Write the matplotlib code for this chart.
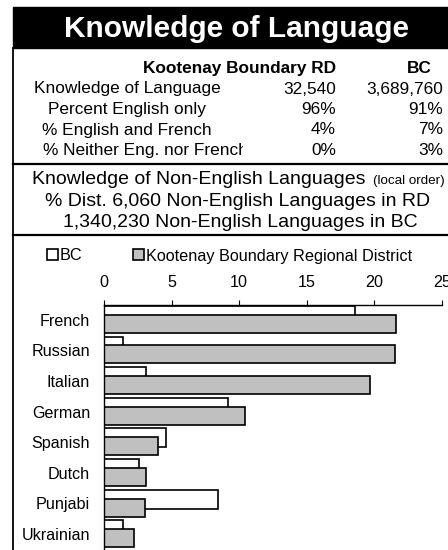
import matplotlib
matplotlib.use("Agg")
import matplotlib.pyplot as plt
from matplotlib.patches import Rectangle
from matplotlib.lines import Line2D
from matplotlib.transforms import Bbox
import numpy as np

plt.rcParams['font.family'] = ['Liberation Sans', 'DejaVu Sans']

# table data
title = "Knowledge of Language"
col_heads = ["Kootenay Boundary RD", "BC"]
row_labels = ["Knowledge of Language", "Percent English only",
              "% English and French", "% Neither Eng. nor French"]
rd_vals = ["32,540", "96%", "4%", "0%"]
bc_vals = ["3,689,760", "91%", "7%", "3%"]

# chart data (percent distribution of non-English languages)
languages = ["French", "Russian", "Italian", "German", "Spanish",
             "Dutch", "Punjabi", "Ukrainian"]
bc_pct = [18.6, 1.4, 3.1, 9.2, 4.6, 2.6, 8.4, 1.4]
rd_pct = [21.6, 21.5, 19.7, 10.4, 4.0, 3.1, 3.0, 2.2]
xticks = [0, 5, 10, 15, 20, 25]

W, H = 448, 550
fig = plt.figure(figsize=(W / 100, H / 100), dpi=100)


def fx(px):
    return px / W


def fy(py):
    return 1 - py / H


# title bar
fig.patches.append(Rectangle((fx(13), fy(48)), fx(W) - fx(13), 41 / H,
                             transform=fig.transFigure, color="black"))
fig.text(fx(237), fy(37), title, ha="center", va="baseline",
         color="white", fontsize=21.5, fontweight="bold")

# frame lines
fig.add_artist(Line2D([fx(13), fx(13)], [fy(48), 0], color="black", lw=1.3))
fig.add_artist(Line2D([fx(13), 1], [fy(163.5), fy(163.5)], color="black", lw=1.6))
fig.add_artist(Line2D([fx(13), 1], [fy(235), fy(235)], color="black", lw=1.6))

# table
fs = 12.4
fig.text(fx(336), fy(73), col_heads[0], ha="right", va="baseline",
         fontsize=fs, fontweight="bold")
fig.text(fx(432), fy(73), col_heads[1], ha="right", va="baseline",
         fontsize=fs, fontweight="bold")
base = [93.5, 114, 134.5, 155]
for i, lab in enumerate(row_labels):
    if i < 3:
        fig.text(fx(127), fy(base[i]), lab, ha="center", va="baseline", fontsize=fs)
    else:
        # the last label overflows its cell and is cut off
        t = fig.text(fx(43), fy(base[i]), lab, ha="left", va="baseline", fontsize=fs)
        t.set_clip_box(Bbox.from_extents(0, 0, 243, H))
    fig.text(fx(336), fy(base[i]), rd_vals[i], ha="right", va="baseline", fontsize=fs)
    fig.text(fx(443), fy(base[i]), bc_vals[i], ha="right", va="baseline", fontsize=fs)

# section heading
fig.text(fx(32), fy(184), "Knowledge of Non-English Languages", ha="left",
         va="baseline", fontsize=14)
fig.text(fx(373), fy(184), "(local order)", ha="left", va="baseline", fontsize=9.6)
fig.text(fx(238), fy(206), "% Dist. 6,060 Non-English Languages in RD",
         ha="center", va="baseline", fontsize=14)
fig.text(fx(240), fy(227), "1,340,230 Non-English Languages in BC",
         ha="center", va="baseline", fontsize=14)

# chart
ax = fig.add_axes([fx(104), 0, fx(442) - fx(104), (H - 305) / H])
y = np.arange(len(languages))
bars_bc = ax.barh(y + 0.03, bc_pct, height=0.62, align="edge",
                  color="white", edgecolor="black", lw=1.2, label="BC")
bars_rd = ax.barh(y + 0.32, rd_pct, height=0.59, align="edge",
                  color="#c0c0c0", edgecolor="black", lw=1.2,
                  label="Kootenay Boundary Regional District")
ax.set_xlim(0, 25)
ax.set_ylim(len(languages), 0)
ax.set_xticks(xticks)
ax.xaxis.tick_top()
ax.tick_params(axis="x", direction="out", length=3.6, width=0.8,
               labelsize=11.6, pad=7)
ax.set_yticks(y + 0.48)
ax.set_yticklabels(languages)
ax.tick_params(axis="y", length=0, labelsize=11.6, pad=10)
for s in ["right", "bottom"]:
    ax.spines[s].set_visible(False)
ax.spines["top"].set_linewidth(1.0)
ax.spines["left"].set_linewidth(1.0)

ax.legend(handles=[bars_bc, bars_rd], loc="center left",
          bbox_to_anchor=(fx(47), fy(256)), bbox_transform=fig.transFigure,
          ncol=2, frameon=False, fontsize=11.7, handlelength=0.65,
          handleheight=0.65, handletextpad=0.15, columnspacing=3.1,
          borderpad=0, borderaxespad=0)

fig.savefig("out.png", dpi=100)
